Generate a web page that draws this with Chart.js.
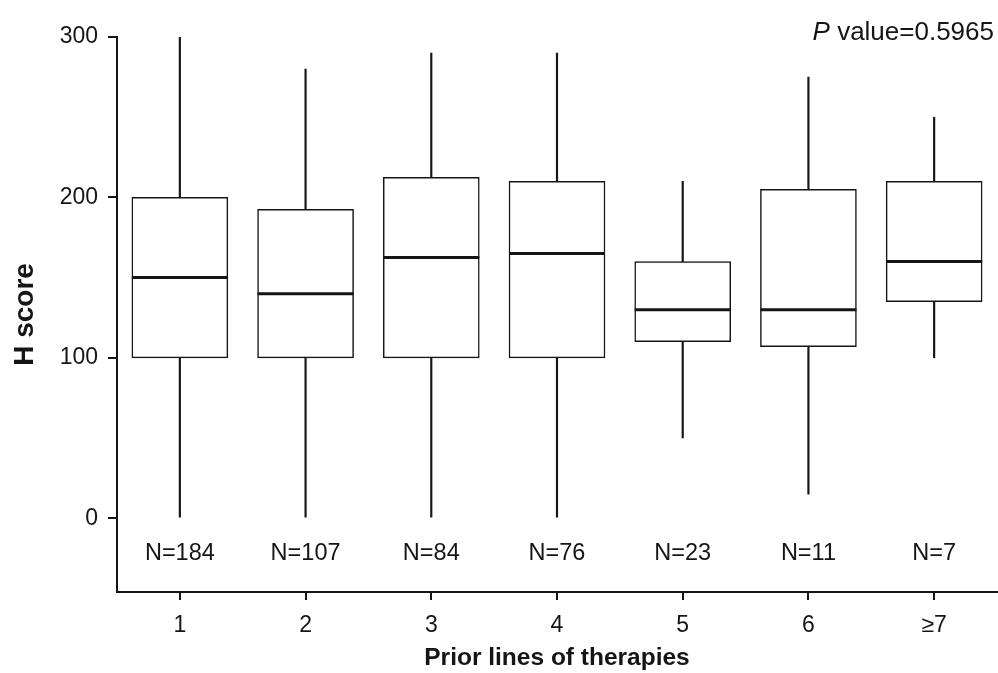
<!DOCTYPE html>
<html>
<head>
<meta charset="utf-8">
<script src="https://cdn.jsdelivr.net/npm/chart.js@4/dist/chart.umd.min.js"></script>
<style>
  html, body { margin: 0; padding: 0; background: #fff; }
  #box { display: block; }
</style>
</head>
<body>
<canvas id="box" width="998" height="673"></canvas>
<script>
// box plot values
var categories = ['1', '2', '3', '4', '5', '6', '\u22657'];
var whiskerLow = [0, 0, 0, 0, 50, 15, 100];
var quartile1 = [100, 100, 100, 100, 110, 107, 135];
var medians = [150, 140, 162.5, 165, 130, 130, 160];
var quartile3 = [200, 192.5, 212.5, 210, 160, 205, 210];
var whiskerHigh = [300, 280, 290, 290, 210, 275, 250];
var counts = [184, 107, 84, 76, 23, 11, 7];
var yTicks = [0, 100, 200, 300];
var pValue = '0.5965';

var ink = '#151515';
var font = "'Liberation Sans', Arial, sans-serif";

// N= labels under each box and the P value in the corner
var annotations = {
  id: 'annotations',
  afterDraw: function(chart) {
    var ctx = chart.ctx;
    var x = chart.scales.x, y = chart.scales.y;
    ctx.save();
    ctx.fillStyle = ink;
    ctx.font = '23.5px ' + font;
    ctx.textAlign = 'center';
    ctx.textBaseline = 'middle';
    counts.forEach(function(n, i) {
      ctx.fillText('N=' + n, x.getPixelForValue(i), y.getPixelForValue(-22));
    });

    var rest = ' value=' + pValue;
    ctx.textBaseline = 'alphabetic';
    ctx.textAlign = 'left';
    ctx.font = '26px ' + font;
    var restW = ctx.measureText(rest).width;
    ctx.font = 'italic 26px ' + font;
    var pW = ctx.measureText('P').width;
    var right = 994;
    ctx.fillText('P', right - restW - pW, 40);
    ctx.font = '26px ' + font;
    ctx.fillText(rest, right - restW, 40);
    ctx.restore();
  }
};

new Chart('box', {
  type: 'bar',
  data: {
    labels: categories,
    datasets: [
      {
        type: 'line',
        label: 'Median',
        data: medians,
        showLine: false,
        pointStyle: 'line',
        pointRadius: 48,
        pointHoverRadius: 48,
        pointBorderWidth: 3,
        pointBorderColor: ink,
        borderColor: ink,
        order: 0
      },
      {
        label: 'IQR',
        data: quartile1.map(function(v, i) { return [v, quartile3[i]]; }),
        backgroundColor: '#ffffff',
        borderColor: ink,
        borderWidth: 1.5,
        borderSkipped: false,
        barThickness: 96,
        grouped: false,
        order: 1
      },
      {
        label: 'Range',
        data: whiskerLow.map(function(v, i) { return [v, whiskerHigh[i]]; }),
        backgroundColor: ink,
        borderWidth: 0,
        barThickness: 1.5,
        grouped: false,
        order: 2
      }
    ]
  },
  options: {
    responsive: false,
    animation: false,
    events: [],
    layout: { autoPadding: false, padding: { top: 37, right: 1, left: 0, bottom: 0 } },
    plugins: {
      legend: { display: false },
      tooltip: { enabled: false }
    },
    scales: {
      x: {
        offset: true,
        afterFit: function(s) {
          s.height = 81;
          s.paddingLeft = 0;
          s.paddingRight = 0;
        },
        grid: { display: true, drawOnChartArea: false, drawTicks: true, tickLength: 8, lineWidth: 2, color: ink, offset: false },
        border: { display: true, width: 2, color: ink },
        ticks: { color: ink, padding: 12, font: { family: font, size: 23 } },
        title: {
          display: true,
          text: 'Prior lines of therapies',
          color: ink,
          padding: { top: 0, bottom: 0 },
          font: { family: font, size: 24.5, weight: 'bold' }
        }
      },
      y: {
        min: -46,
        max: 300,
        afterFit: function(s) {
          s.width = 117;
          s.paddingTop = 0;
          s.paddingBottom = 0;
        },
        afterBuildTicks: function(s) {
          s.ticks = yTicks.map(function(v) { return { value: v }; });
        },
        grid: { display: true, drawOnChartArea: false, drawTicks: true, tickLength: 9, lineWidth: 2, color: ink },
        border: { display: true, width: 2, color: ink },
        ticks: { color: ink, padding: 10, font: { family: font, size: 23 } },
        title: {
          display: true,
          text: 'H score',
          color: ink,
          padding: { top: 8, bottom: 0 },
          font: { family: font, size: 28, weight: 'bold' }
        }
      }
    }
  },
  plugins: [annotations]
});
</script>
</body>
</html>
